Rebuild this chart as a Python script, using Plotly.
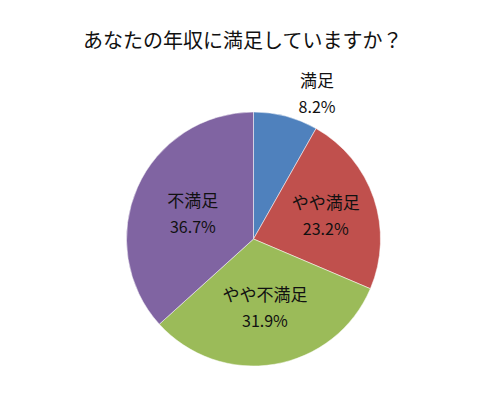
import plotly.graph_objects as go

# survey answers, percent
labels = ['満足', 'やや満足', 'やや不満足', '不満足']
values = [8.2, 23.2, 31.9, 36.7]
colors = ['#4F81BD', '#C0504D', '#9BBB59', '#8064A2']

fig = go.Figure(go.Pie(
    labels=labels,
    values=values,
    sort=False,
    direction='clockwise',
    rotation=0,
    marker=dict(colors=colors, line=dict(color='white', width=0.5)),
    texttemplate='<span style="font-size:17px">%{label}</span><br>'
                 '<span style="font-size:16px">%{value:.1f}%</span>',
    textposition=['outside', 'inside', 'inside', 'inside'],
    insidetextorientation='horizontal',
    textfont=dict(size=20, color='#111111'),
    showlegend=False,
    hoverinfo='label+value',
    domain=dict(x=[0.236, 0.746], y=[0.105, 0.74]),
))

fig.update_layout(
    width=500,
    height=400,
    font=dict(family='Noto Sans CJK JP', color='#111111'),
    title=dict(text='あなたの年収に満足していますか？', x=0.15, xanchor='left',
               y=0.918, yanchor='middle', font=dict(size=20, color='#111111')),
    margin=dict(l=0, r=0, t=0, b=0),
    paper_bgcolor='white',
    plot_bgcolor='white',
)

fig.write_html("out.html")
